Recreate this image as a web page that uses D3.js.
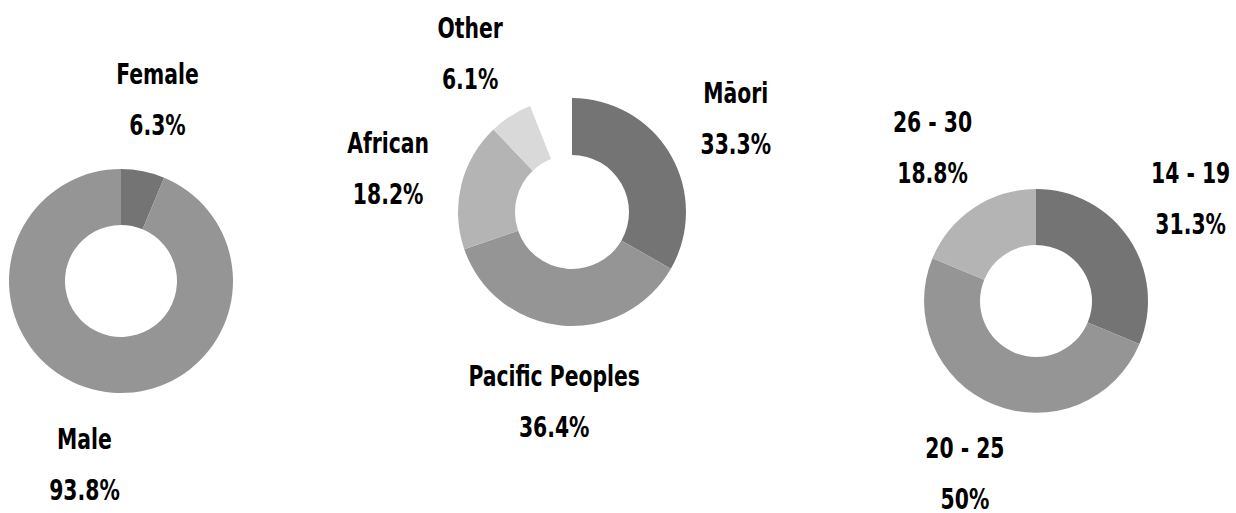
<!DOCTYPE html>
<html>
<head>
<meta charset="utf-8">
<script src="https://cdn.jsdelivr.net/npm/d3@7"></script>
<style>
  body { margin: 0; background: #fff; }
  text { font-family: "DejaVu Sans Condensed", "DejaVu Sans", sans-serif; font-weight: bold; fill: #000; }
</style>
</head>
<body>
<div id="chart"></div>
<script>
// data
const genderLabels = ['Female', 'Male'];
const genderValues = [6.3, 93.8];

const ethnicityLabels = ['Māori', 'Pacific Peoples', 'African', 'Other'];
const ethnicityValues = [33.3, 36.4, 18.2, 6.1];

const ageLabels = ['14 - 19', '20 - 25', '26 - 30'];
const ageValues = [31.3, 50, 18.8];

const greys = ['#747474', '#959595', '#b4b4b4', '#d9d9d9'];

const width = 1236;
const height = 513;

const svg = d3.select('#chart')
  .append('svg')
  .attr('width', width)
  .attr('height', height);

// percent -> angle, so a set that sums below 100 leaves a gap
const angle = d3.scaleLinear().domain([0, 100]).range([0, 2 * Math.PI]);

function drawDonut(labels, values, cx, cy, r) {
  const rows = labels.map((label, i) => ({ label, value: values[i], color: greys[i] }));

  const pie = d3.pie()
    .sort(null)
    .value((d) => d.value)
    .endAngle(angle(Math.min(100, d3.sum(values))));

  const arc = d3.arc().innerRadius(r * 0.5).outerRadius(r);
  const labelArc = d3.arc().innerRadius(r * 1.66).outerRadius(r * 1.66);

  const g = svg.append('g').attr('transform', `translate(${cx},${cy})`);

  const slices = pie(rows);

  g.selectAll('path')
    .data(slices)
    .join('path')
    .attr('d', arc)
    .attr('fill', (d) => d.data.color);

  // the original face is a narrow display font, so squeeze the fallback
  const labelsG = g.selectAll('g.label')
    .data(slices)
    .join('g')
    .attr('class', 'label')
    .attr('transform', (d) => `translate(${labelArc.centroid(d)}) scale(0.78,1)`);

  labelsG.append('text')
    .attr('text-anchor', 'middle')
    .attr('y', -14.5)
    .style('font-size', '29px')
    .text((d) => d.data.label);

  labelsG.append('text')
    .attr('text-anchor', 'middle')
    .attr('y', 36.5)
    .style('font-size', '29px')
    .text((d) => d.data.value + '%');
}

drawDonut(genderLabels, genderValues, 121, 281, 112);
drawDonut(ethnicityLabels, ethnicityValues, 572, 212, 114);
drawDonut(ageLabels, ageValues, 1036, 301, 112);
</script>
</body>
</html>
